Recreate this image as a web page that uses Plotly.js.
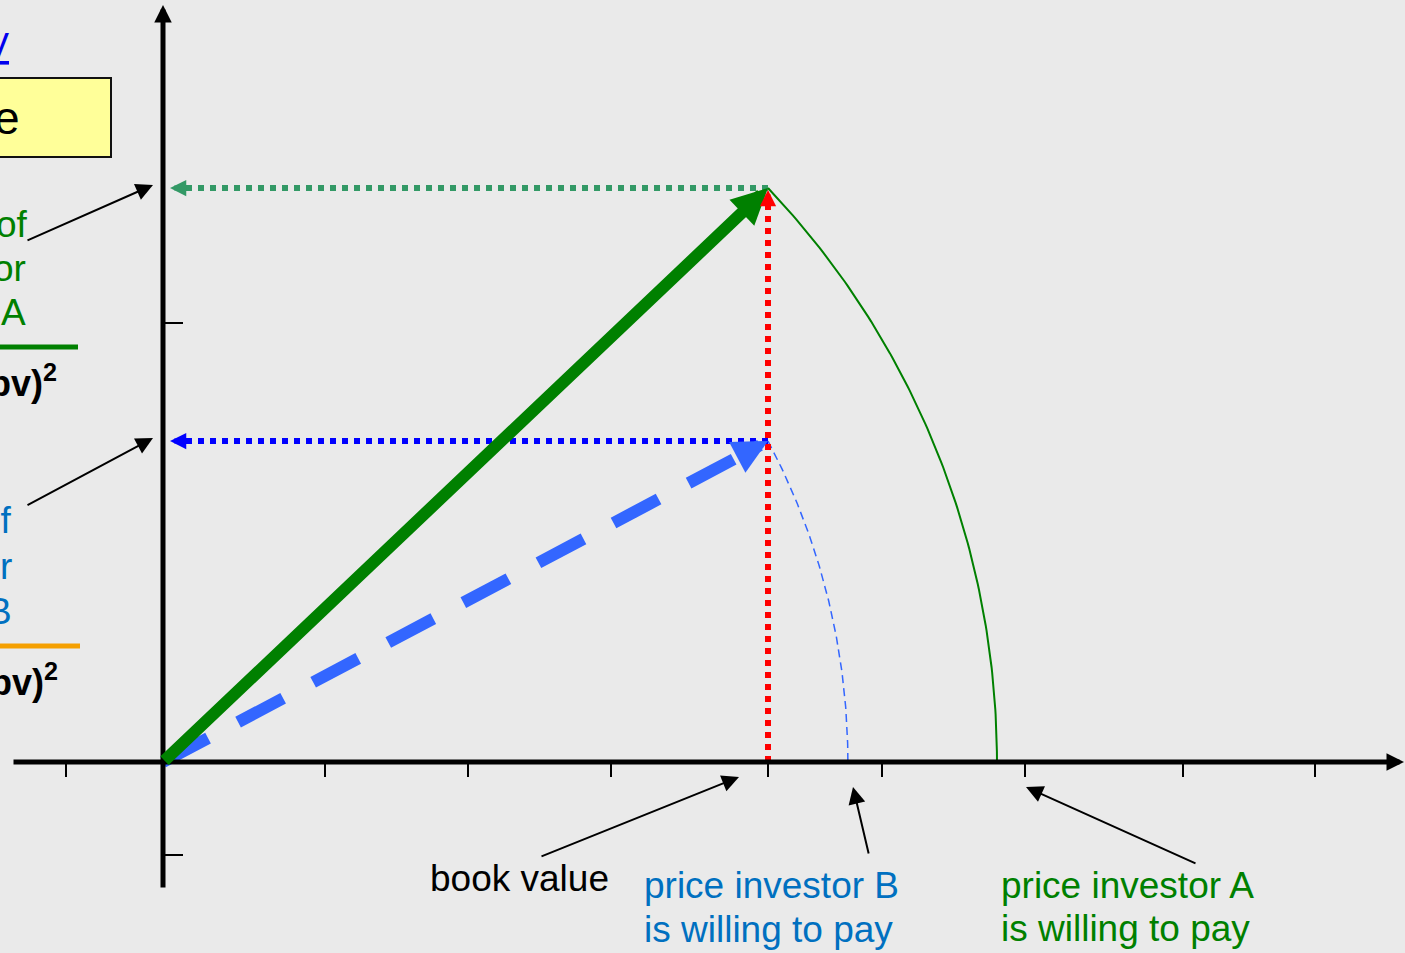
<!DOCTYPE html>
<html>
<head>
<meta charset="utf-8">
<script src="https://cdn.plot.ly/plotly-3.0.1.min.js"></script>
<style>html,body{margin:0;padding:0;background:#eaeaea;overflow:hidden}</style>
</head>
<body>
<div id="chart" style="width:1405px;height:953px"></div>
<script>
// ---- data ----
const investors = ['A', 'B'];
const bookValues = [605, 605];          // book value (x) for each investor vector
const valuations = [574, 321];          // value of investor (y)
const vectorColors = ['#008000', '#3366ff'];
const xTickValues = [-97, 162, 305, 448, 605, 719, 862, 1020, 1152];
const yTickValues = [439, -93];
const bottomLabels = ['book value', 'price investor B', 'is willing to pay', 'price investor A', 'is willing to pay'];

// pixel helpers (1 data unit = 1 px, origin of the diagram)
const X = px => px - 163;
const Y = py => 762 - py;
const FONT = 'Liberation Sans, Arial, sans-serif';

function arcPoints(bx, vy, n) {
  const r = Math.hypot(bx, vy), t0 = Math.atan2(vy, bx);
  const xs = [], ys = [];
  for (let i = 0; i <= n; i++) {
    const t = t0 * (1 - i / n);
    xs.push(r * Math.cos(t)); ys.push(r * Math.sin(t));
  }
  return {xs, ys};
}

const arcA = arcPoints(bookValues[0], valuations[0], 120);
const arcB = arcPoints(bookValues[1], valuations[1], 120);

// blue vector shaft ends before head
const lenB = Math.hypot(bookValues[1], valuations[1]);
const uB = [bookValues[1] / lenB, valuations[1] / lenB];
const shaftB = lenB - 38;

const traces = [
  {x: arcA.xs, y: arcA.ys, mode: 'lines', line: {color: '#008000', width: 2}, hoverinfo: 'skip'},
  {x: arcB.xs, y: arcB.ys, mode: 'lines', line: {color: '#3366ff', width: 1.5, dash: '8px,5px'}, hoverinfo: 'skip'},
  {x: [bookValues[0], X(184)], y: [valuations[0], valuations[0]], mode: 'lines', line: {color: '#339966', width: 6, dash: '6px,6px'}, hoverinfo: 'skip'},
  {x: [bookValues[1], X(184)], y: [valuations[1], valuations[1]], mode: 'lines', line: {color: '#0000ff', width: 6, dash: '6px,6px'}, hoverinfo: 'skip'},
  {x: [0, uB[0] * shaftB], y: [0, uB[1] * shaftB], mode: 'lines', line: {color: vectorColors[1], width: 12, dash: '51px,34px'}, hoverinfo: 'skip'},
  {x: [bookValues[0], bookValues[0]], y: [0, valuations[0] - 16], mode: 'lines', line: {color: '#ff0000', width: 6, dash: '6px,6px'}, hoverinfo: 'skip'}
];

function arrow(tail, tip, color, width, size, head) {
  return {x: tip[0], y: tip[1], ax: tail[0], ay: tail[1], xref: 'x', yref: 'y', axref: 'x', ayref: 'y',
    showarrow: true, arrowhead: head || 2, arrowsize: size, arrowwidth: width, arrowcolor: color, standoff: 0, text: ''};
}
function label(text, x, y, xanchor, color, size, extra) {
  return Object.assign({x: x, y: y, xref: 'x', yref: 'y', xanchor: xanchor, yanchor: 'middle', showarrow: false,
    text: text, font: {family: FONT, size: size, color: color}}, extra || {});
}

const annotations = [
  // axes
  arrow([X(12), 0], [X(1404), 0], '#000', 5, 0.7),
  arrow([0, Y(889)], [0, Y(5)], '#000', 5, 0.7),
  // investor A vector
  arrow([0, 0], [bookValues[0], valuations[0]], vectorColors[0], 12, 0.6),
  // investor B vector head
  arrow([uB[0] * (lenB - 30), uB[1] * (lenB - 30)], [bookValues[1], valuations[1]], vectorColors[1], 12, 0.58),
  // dotted projections heads
  arrow([X(190), valuations[0]], [X(170), valuations[0]], '#339966', 5, 0.65),
  arrow([X(190), valuations[1]], [X(170), valuations[1]], '#0000ff', 5, 0.65),
  arrow([bookValues[0], valuations[0] - 22], [bookValues[0], valuations[0] - 2], '#ff0000', 5, 0.65),
  // pointers
  arrow([X(26), Y(241)], [X(153), valuations[0] + 3], '#000', 2, 1.7),
  arrow([X(26), Y(506)], [X(153), valuations[1] + 3], '#000', 2, 1.7),
  arrow([X(540), Y(857)], [bookValues[0] - 29, Y(777)], '#000', 2, 1.7),
  arrow([X(869), Y(855)], [X(853), Y(787)], '#000', 2, 1.7),
  arrow([X(1197), Y(864)], [X(1026), Y(787)], '#000', 2, 1.7),
  // bottom labels
  label(bottomLabels[0], X(428), Y(891 - 12.8), 'left', '#000', 37),
  label(bottomLabels[1], X(642), Y(898 - 12.8), 'left', '#0070c0', 37),
  label(bottomLabels[2], X(642), Y(942 - 12.8), 'left', '#0070c0', 37),
  label(bottomLabels[3], X(999), Y(898 - 12.8), 'left', '#008000', 37),
  label(bottomLabels[4], X(999), Y(941 - 12.8), 'left', '#008000', 37),
  // left labels (partly outside the frame)
  label('<u>V</u>', X(11), Y(59 - 12.5), 'right', '#0000ee', 36),
  label('e', X(22), Y(133 - 15), 'right', '#000', 46),
  label('of', X(30), Y(237 - 12.5), 'right', '#008000', 37),
  label('or', X(28), Y(281 - 12.5), 'right', '#008000', 37),
  label('A', X(28), Y(325 - 12.5), 'right', '#008000', 37),
  label('<b>bv)<sup>2</sup></b>', X(59), Y(393 - 12.5), 'right', '#000', 36),
  label('of', X(14), Y(533 - 12.5), 'right', '#0070c0', 37),
  label('r', X(14), Y(579 - 12.5), 'right', '#0070c0', 37),
  label('B', X(14), Y(624 - 12.5), 'right', '#0070c0', 37),
  label('<b>bv)<sup>2</sup></b>', X(60), Y(692 - 12.5), 'right', '#000', 36)
];

const shapes = [];
xTickValues.forEach(v => shapes.push({type: 'line', xref: 'x', yref: 'y', x0: v, x1: v, y0: 0, y1: -15, line: {color: '#000', width: 2}}));
yTickValues.forEach(v => shapes.push({type: 'line', xref: 'x', yref: 'y', x0: 0, x1: 20, y0: v, y1: v, line: {color: '#000', width: 2}}));
shapes.push({type: 'rect', xref: 'x', yref: 'y', x0: X(-60), x1: X(111), y0: Y(157), y1: Y(78), fillcolor: '#ffff99', line: {color: '#111', width: 2}, layer: 'below'});
shapes.push({type: 'line', xref: 'x', yref: 'y', x0: X(-10), x1: X(78), y0: Y(347), y1: Y(347), line: {color: '#008000', width: 5}});
shapes.push({type: 'line', xref: 'x', yref: 'y', x0: X(-10), x1: X(80), y0: Y(646), y1: Y(646), line: {color: '#f5a000', width: 5}});

const layout = {
  width: 1405, height: 953,
  margin: {l: 0, r: 0, t: 0, b: 0, pad: 0},
  paper_bgcolor: '#eaeaea', plot_bgcolor: '#eaeaea',
  showlegend: false,
  xaxis: {range: [-163, 1242], visible: false, fixedrange: true},
  yaxis: {range: [-191, 762], visible: false, fixedrange: true},
  annotations: annotations,
  shapes: shapes
};

Plotly.newPlot('chart', traces, layout, {displayModeBar: false, staticPlot: true});
</script>
</body>
</html>
